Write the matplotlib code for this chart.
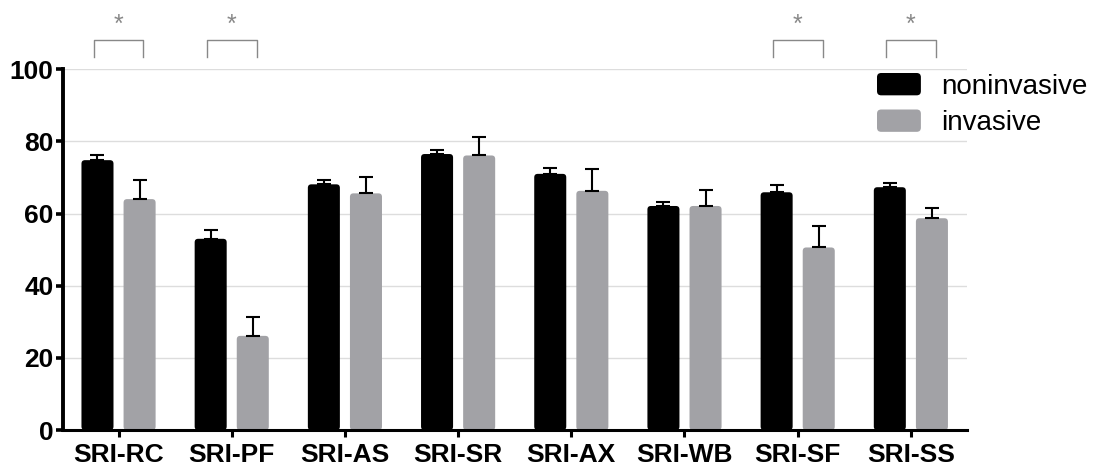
import numpy as np
import matplotlib
matplotlib.use("Agg")
import matplotlib.pyplot as plt
from matplotlib.patches import FancyBboxPatch
from matplotlib.legend_handler import HandlerPatch

categories = ["SRI-RC", "SRI-PF", "SRI-AS", "SRI-SR", "SRI-AX", "SRI-WB", "SRI-SF", "SRI-SS"]
noninvasive = [74.8, 53.0, 68.1, 76.5, 71.0, 62.1, 65.9, 67.3]
noninvasive_err = [1.4, 2.5, 1.2, 1.2, 1.7, 1.2, 1.9, 1.1]
invasive = [64.0, 26.1, 65.6, 76.1, 66.3, 62.1, 50.6, 58.7]
invasive_err = [5.3, 5.2, 4.5, 5.0, 6.0, 4.4, 5.9, 2.9]
significant = ["SRI-RC", "SRI-PF", "SRI-SF", "SRI-SS"]

plt.rcParams['font.family'] = ['Liberation Sans', 'DejaVu Sans']

gray = "#a2a2a6"
fig = plt.figure(figsize=(10.97, 4.71), dpi=100)
ax = fig.add_axes([0.0577, 0.087, 0.8235, 0.766])

x = np.arange(len(categories))
w = 0.283
off = 0.186
xlim = (-0.488, 7.493)
ylim = (0, 100)
ax.set_xlim(*xlim)
ax.set_ylim(*ylim)

# bars with slightly rounded corners -> need the aspect of data units
ax_w_px = 0.8235 * 1097
ax_h_px = 0.766 * 471
px_x = (xlim[1] - xlim[0]) / ax_w_px
px_y = (ylim[1] - ylim[0]) / ax_h_px
aspect = px_y / px_x

def rounded_bars(xpos, heights, color, label):
    for i, (xi, h) in enumerate(zip(xpos, heights)):
        p = FancyBboxPatch((xi - w / 2, 0), w, h,
                           boxstyle="round,pad=0,rounding_size=%f" % (3.5 * px_x),
                           mutation_aspect=aspect, facecolor=color, edgecolor="none",
                           zorder=3, label=label if i == 0 else None)
        ax.add_patch(p)

rounded_bars(x - off, noninvasive, "black", "noninvasive")
rounded_bars(x + off, invasive, gray, "invasive")

# only the upper half of the error bars is drawn
zeros = np.zeros(len(x))
ax.errorbar(x - off, noninvasive, yerr=[zeros, noninvasive_err],
            fmt="none", ecolor="black", elinewidth=1.5, capsize=5, capthick=1.5, zorder=4)
ax.errorbar(x + off, invasive, yerr=[zeros, invasive_err],
            fmt="none", ecolor="black", elinewidth=1.5, capsize=5, capthick=1.5, zorder=4)

ax.set_yticks([0, 20, 40, 60, 80, 100])
ax.set_xticks(x)
ax.set_xticklabels(categories)
ax.grid(axis="y", color="#dddddd", linewidth=1.0, zorder=0)
ax.set_axisbelow(True)

for s in ["top", "right"]:
    ax.spines[s].set_visible(False)
ax.spines["left"].set_linewidth(2.8)
ax.spines["bottom"].set_linewidth(2.2)
ax.spines["bottom"].set_zorder(5)
ax.tick_params(axis="y", direction="out", length=5, width=2.6, labelsize=19, pad=2)
ax.tick_params(axis="x", direction="out", length=5, width=2.2, labelsize=19, pad=4)
for lab in ax.get_xticklabels() + ax.get_yticklabels():
    lab.set_fontweight("bold")

# significance brackets
for cat in significant:
    i = categories.index(cat)
    xs = [i - 0.22, i - 0.22, i + 0.22, i + 0.22]
    ys = [103.4, 108.1, 108.1, 103.4]
    ax.plot(xs, ys, color="#888888", linewidth=1.0, clip_on=False)
    ax.text(i, 112.2, "*", ha="center", va="center", color="#888888", fontsize=18, clip_on=False)


def round_handle(legend, orig_handle, xdescent, ydescent, width, height, fontsize):
    return FancyBboxPatch((-xdescent, -ydescent), width, height,
                          boxstyle="round,pad=0,rounding_size=3")


handles = [p for p in ax.patches if p.get_label() in ("noninvasive", "invasive")]
fig.legend(handles=handles, loc="upper left", bbox_to_anchor=(877 / 1097, 1 - 73 / 471),
           frameon=False, fontsize=20, handlelength=1.58, handleheight=0.86,
           handletextpad=0.72, labelspacing=0.35, borderpad=0, borderaxespad=0,
           handler_map={FancyBboxPatch: HandlerPatch(patch_func=round_handle)})

fig.savefig("out.png", dpi=100)
